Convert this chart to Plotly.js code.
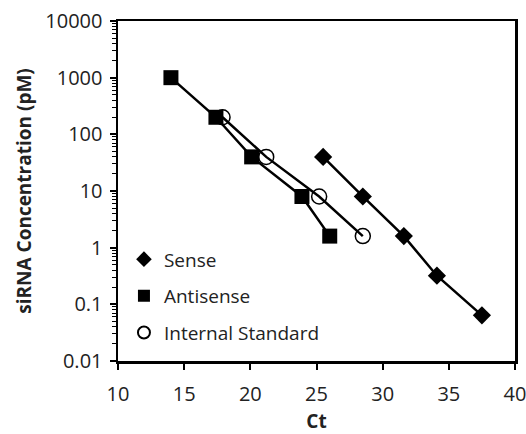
<!DOCTYPE html>
<html><head><meta charset="utf-8">
<script src="https://cdn.plot.ly/plotly-3.0.1.min.js"></script>
<style>html,body{margin:0;padding:0;background:#fff;}#chart{width:526px;height:434px;}</style>
</head><body><div id="chart"></div>
<script>
const senseCt = [25.5, 28.5, 31.6, 34.1, 37.5];
const senseConc = [40, 8, 1.6, 0.32, 0.064];
const antiCt = [14.0, 17.4, 20.1, 23.9, 26.0];
const antiConc = [1000, 200, 40, 8, 1.6];
const stdCt = [17.9, 21.2, 25.2, 28.5];
const stdConc = [200, 40, 8, 1.6];
const seriesNames = ['Sense', 'Antisense', 'Internal Standard'];

const font = '"Open Sans", sans-serif';
const txt = '#222';
const series = [
  {x: senseCt, y: senseConc, name: seriesNames[0], marker: {symbol: 'diamond', size: 14, color: '#000'}},
  {x: antiCt, y: antiConc, name: seriesNames[1], marker: {symbol: 'square', size: 15, color: '#000'}},
  {x: stdCt, y: stdConc, name: seriesNames[2], marker: {symbol: 'circle-open', size: 15, color: '#000', line: {width: 1.5, color: '#000'}}}
];
const traces = [];
series.forEach((s, i) => {
  traces.push({x: s.x, y: s.y, mode: 'lines', showlegend: false, hoverinfo: 'skip',
    line: {color: '#000', width: 2.5}});
});
series.forEach((s, i) => {
  traces.push({x: s.x, y: s.y, name: s.name, mode: 'markers', marker: s.marker,
    legendgroup: 'g' + i, showlegend: true});
});
const layout = {
  width: 526, height: 434,
  margin: {l: 118, r: 11, t: 21, b: 73},
  paper_bgcolor: '#fff', plot_bgcolor: '#fff',
  font: {family: font, size: 19, color: txt},
  showlegend: true,
  legend: {x: 0.015, y: 0.355, xanchor: 'left', yanchor: 'top', bgcolor: 'rgba(0,0,0,0)',
    traceorder: 'grouped', tracegroupgap: 9,
    font: {family: font, size: 19, color: txt}, itemsizing: 'constant', itemwidth: 30},
  xaxis: {range: [10, 40], dtick: 5, tick0: 10, showline: true, mirror: true, linecolor: '#000', linewidth: 2.5,
    ticks: 'outside', ticklen: 6, tickwidth: 2, tickcolor: '#000', showgrid: false, zeroline: false,
    ticklabelstandoff: 7, ticklabeloverflow: 'allow',
    tickfont: {family: font, size: 20, color: txt},
    title: {text: '<b>Ct</b>', font: {family: font, size: 19, color: txt}, standoff: 12}},
  yaxis: {type: 'log', range: [-2, 4], dtick: 1, tickformat: '~g',
    showline: true, mirror: true, linecolor: '#000', linewidth: 2.5,
    ticks: 'outside', ticklen: 6, tickwidth: 2, tickcolor: '#000', showgrid: false, zeroline: false,
    ticklabelstandoff: 3, ticklabeloverflow: 'allow',
    minor: {ticks: 'outside', ticklen: 4, tickwidth: 1, tickcolor: '#000', dtick: 'D1', showgrid: false},
    tickfont: {family: font, size: 20, color: txt},
    title: {text: '<b>siRNA Concentration (pM)</b>', font: {family: font, size: 19, color: txt}, standoff: 9}}
};
Plotly.newPlot('chart', traces, layout, {displayModeBar: false, staticPlot: true});
</script></body></html>
